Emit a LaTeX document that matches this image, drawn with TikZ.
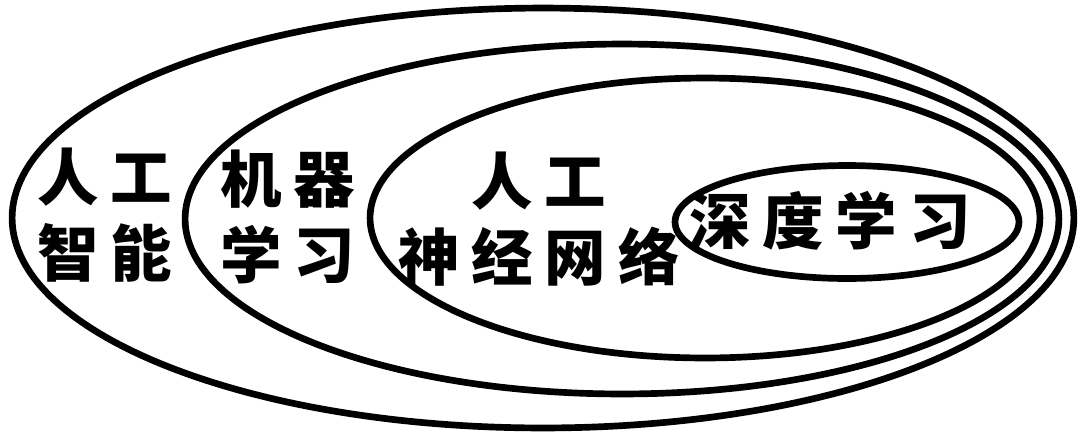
\documentclass[tikz,border=0pt]{standalone}
\usepackage{fontspec}
\newfontfamily\cjk{Noto Sans CJK SC}
\newcommand{\zg}{\hspace{0.19em}}

\begin{document}
\begin{tikzpicture}[x=0.02cm, y=-0.02cm]
\tikzstyle{ring} = [
	draw=black, %outline of the set
	line width=3.8pt
];
\tikzstyle{word} = [
	font=\cjk\bfseries\fontsize{35pt}{43pt}\selectfont,
	align=center,
	inner sep=0pt
];

\useasboundingbox (0,0) rectangle (1080,434);

%nested sets, outer to inner
\draw[ring] (543,218) ellipse [x radius=10.62cm, y radius=4.2cm];
\draw[ring] (622,219) ellipse [x radius=8.74cm, y radius=3.5cm];
\draw[ring] (705,218) ellipse [x radius=6.7cm, y radius=2.8cm];
\draw[ring] (847,222) ellipse [x radius=3.44cm, y radius=1.13cm];

%names of the sets
\node[word](AI) at (105,215) {人\zg 工\\智\zg 能};
\node[word](ML) at (288,217) {机\zg 器\\学\zg 习};
\node[word](NN) at (539,219) {人\zg 工\\神\zg 经\zg 网\zg 络};
\node[word](DL) at (830,221) {深\zg 度\zg 学\zg 习};

\end{tikzpicture}
\end{document}
